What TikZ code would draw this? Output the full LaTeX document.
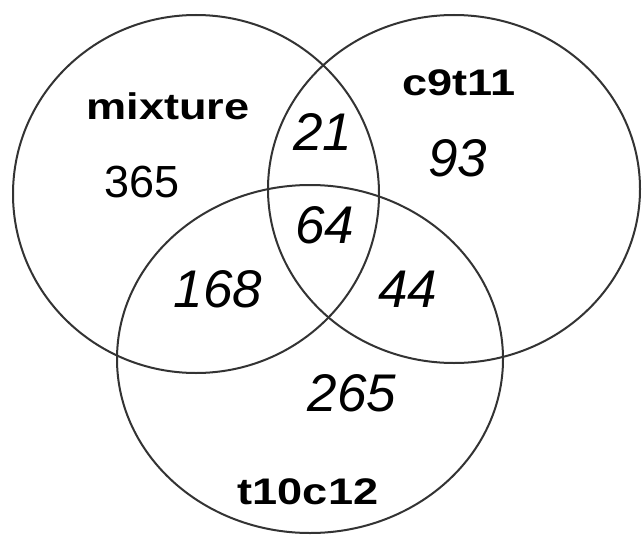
\documentclass[tikz,border=0pt]{standalone}
\usepackage{fontspec}
\setmainfont{Liberation Sans}
\usetikzlibrary{shapes.geometric}
\begin{document}
\begin{tikzpicture}[x=1pt,y=-1pt,
  setring/.style={draw=black!80,line width=2pt,ellipse,inner sep=0pt,fill=none},
  setname/.style={inner sep=0pt,font=\fontsize{37}{40}\selectfont\bfseries,xscale=1.22},
  plainnum/.style={inner sep=0pt,font=\fontsize{45}{50}\selectfont},
  slantnum/.style={inner sep=0pt,font=\fontsize{53}{58}\selectfont\itshape}]
\useasboundingbox[fill=white] (0,0) rectangle (642,535);
\node[setring,minimum width=366pt,minimum height=358pt] (mix) at (196,194) {};
\node[setring,minimum width=372pt,minimum height=348pt] (cnine) at (454,189) {};
\node[setring,minimum width=386pt,minimum height=348pt] (tten) at (310,359) {};
\node[setname] (lmix) at (168,106) {mixture};
\node[setname] (lcnine) at (459,83) {c9t11};
\node[setname] (ltten) at (308,492) {t10c12};
\node[plainnum] (n365) at (142,182) {365};
\node[slantnum] (n21) at (323,132) {21};
\node[slantnum] (n93) at (458,158) {93};
\node[slantnum] (n64) at (325,225) {64};
\node[slantnum] (n168) at (218,289) {168};
\node[slantnum] (n44) at (408,289) {44};
\node[slantnum] (n265) at (352,393) {265};
\end{tikzpicture}
\end{document}
